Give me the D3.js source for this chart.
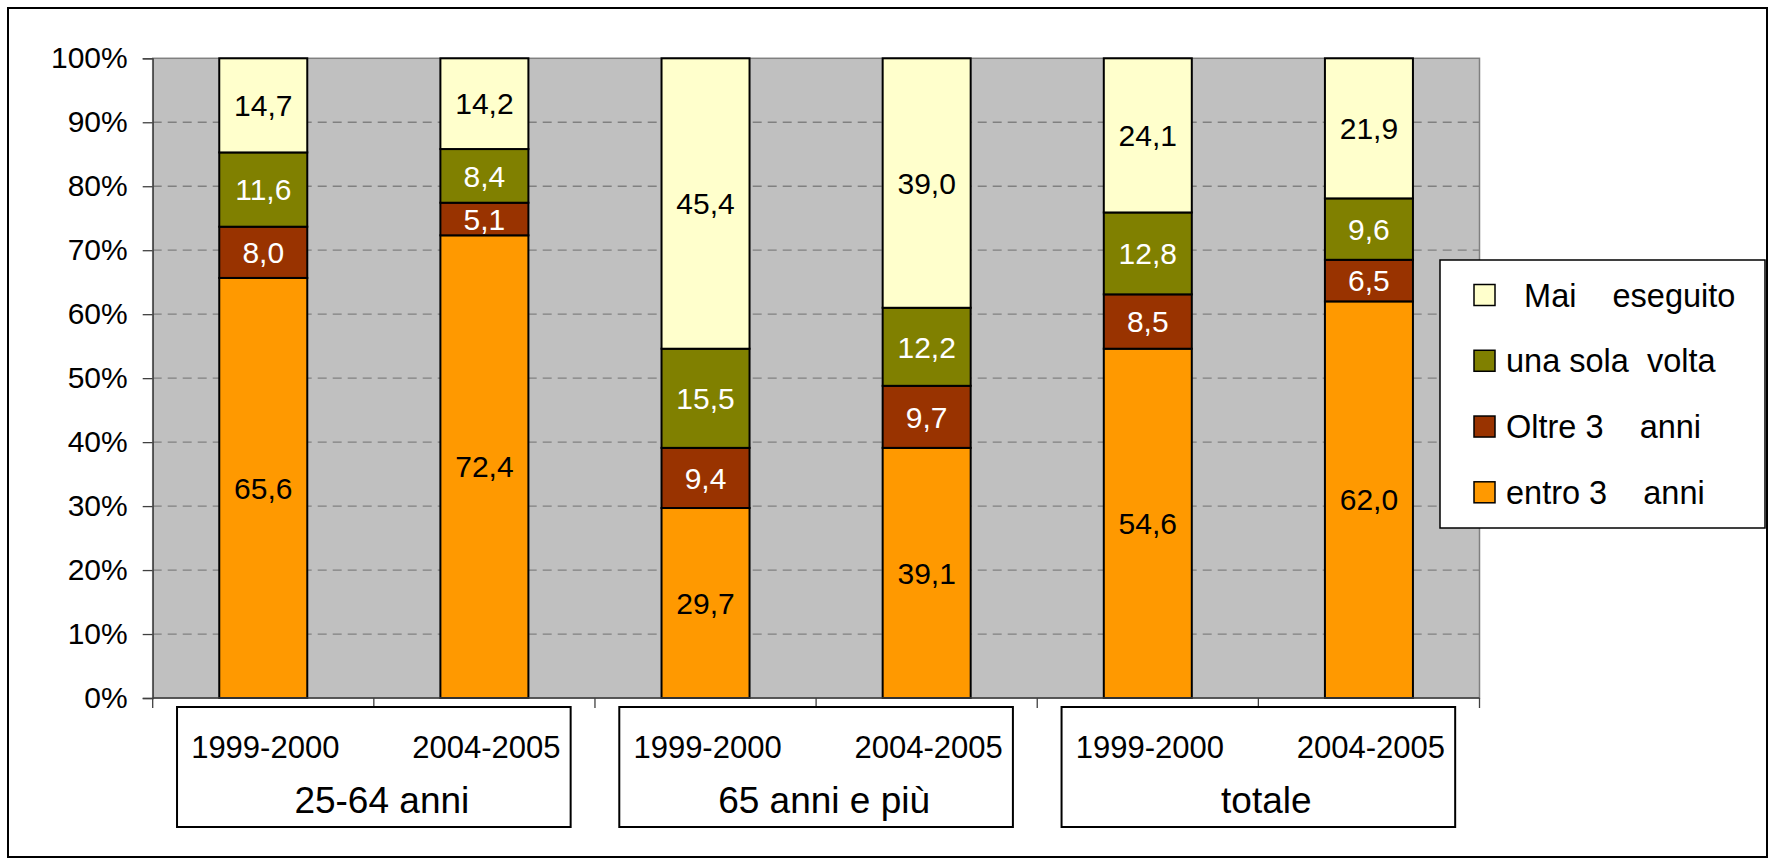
<!DOCTYPE html>
<html>
<head>
<meta charset="utf-8">
<script src="https://cdn.jsdelivr.net/npm/d3@7"></script>
<style>
	html, body { margin: 0; padding: 0; background: #fff; }
	svg text { font-family: "Liberation Sans", Arial, sans-serif; }
</style>
</head>
<body>
<svg width="1772" height="860"></svg>
<script>
// Categories (period) and age groups
const periods = ["1999-2000", "2004-2005", "1999-2000", "2004-2005", "1999-2000", "2004-2005"];
const groups = ["25-64 anni", "65 anni e più", "totale"];

// Series, bottom to top
const seriesNames = ["entro 3    anni", "Oltre 3    anni", "una sola  volta", "  Mai    eseguito"];
const entro3 = [65.6, 72.4, 29.7, 39.1, 54.6, 62.0];
const oltre3 = [8.0, 5.1, 9.4, 9.7, 8.5, 6.5];
const unaVolta = [11.6, 8.4, 15.5, 12.2, 12.8, 9.6];
const maiEseguito = [14.7, 14.2, 45.4, 39.0, 24.1, 21.9];

const seriesValues = [entro3, oltre3, unaVolta, maiEseguito];
const colors = ["#FF9900", "#993300", "#808000", "#FFFFCC"];
const labelColors = ["#000", "#fff", "#fff", "#000"];

const svg = d3.select("svg");

// outer frame
svg.append("rect")
	.attr("x", 8).attr("y", 8)
	.attr("width", 1759).attr("height", 849)
	.attr("fill", "#fff").attr("stroke", "#000").attr("stroke-width", 2);

const plot = { left: 152.7, right: 1479.5, top: 58.3, bottom: 698 };

const ids = periods.map((p, i) => i);

const x = d3.scaleBand()
	.domain(ids)
	.range([plot.left, plot.right])
	.paddingInner(0.602)
	.paddingOuter(0.301);

// band scale without padding: category boundaries
const xCell = d3.scaleBand().domain(ids).range([plot.left, plot.right]);

const xGroup = d3.scaleBand()
	.domain(groups)
	.range([plot.left, plot.right])
	.paddingInner(0.11)
	.paddingOuter(0.055);

const y = d3.scaleLinear().domain([0, 1]).range([plot.bottom, plot.top]);

// plot background
svg.append("rect")
	.attr("x", plot.left).attr("y", plot.top)
	.attr("width", plot.right - plot.left).attr("height", plot.bottom - plot.top)
	.attr("fill", "#C0C0C0").attr("stroke", "#808080").attr("stroke-width", 1.5);

// gridlines
svg.append("g")
	.selectAll("line")
	.data(y.ticks(10).filter((t) => t > 0 && t < 1))
	.enter()
	.append("line")
	.attr("x1", plot.left).attr("x2", plot.right)
	.attr("y1", (d) => y(d)).attr("y2", (d) => y(d))
	.attr("stroke", "#808080")
	.attr("stroke-width", 1.3)
	.attr("stroke-dasharray", "9,6");

// stack (100% normalised like Excel)
const rows = ids.map((i) => {
	const total = d3.sum(seriesValues, (s) => s[i]);
	const r = { id: i };
	seriesValues.forEach((s, k) => { r["s" + k] = s[i] / total; r["v" + k] = s[i]; });
	return r;
});
const stack = d3.stack().keys(seriesValues.map((s, k) => "s" + k));
const layers = stack(rows);

const it = d3.formatLocale({ decimal: ",", thousands: ".", grouping: [3], currency: ["€", ""] });
const fmt = it.format(".1f");

const layerG = svg.append("g")
	.selectAll("g")
	.data(layers)
	.enter()
	.append("g");

layerG.selectAll("rect")
	.data((d) => d)
	.enter()
	.append("rect")
	.attr("x", (d) => x(d.data.id))
	.attr("y", (d) => y(d[1]))
	.attr("width", x.bandwidth())
	.attr("height", (d) => y(d[0]) - y(d[1]))
	.attr("fill", function () { return colors[d3.select(this.parentNode).datum().index]; })
	.attr("stroke", "#000")
	.attr("stroke-width", 2);

layerG.each(function (layer) {
	const k = layer.index;
	d3.select(this).selectAll("text")
		.data(layer)
		.enter()
		.append("text")
		.attr("x", (d) => x(d.data.id) + x.bandwidth() / 2)
		.attr("y", (d) => (y(d[0]) + y(d[1])) / 2)
		.attr("dy", "0.36em")
		.attr("text-anchor", "middle")
		.style("font-size", "30px")
		.style("fill", labelColors[k])
		.text((d) => fmt(d.data["v" + k]));
});

// y axis
const yAxis = svg.append("g")
	.attr("transform", `translate(${plot.left},0)`)
	.call(d3.axisLeft(y).ticks(10).tickFormat(d3.format(".0%")).tickSize(10).tickPadding(15));
yAxis.select(".domain").attr("stroke", "#404040").attr("stroke-width", 1.3);
yAxis.selectAll(".tick line").attr("stroke", "#404040").attr("stroke-width", 1.3);
yAxis.selectAll(".tick text")
	.style("font-size", "30px")
	.style("font-family", "'Liberation Sans', Arial, sans-serif")
	.attr("fill", "#000");

// x axis line and boundary ticks
svg.append("line")
	.attr("x1", plot.left).attr("x2", plot.right)
	.attr("y1", plot.bottom).attr("y2", plot.bottom)
	.attr("stroke", "#404040").attr("stroke-width", 1.3);

const bounds = ids.map((i) => xCell(i)).concat([plot.right]);
svg.append("g")
	.selectAll("line")
	.data(bounds)
	.enter()
	.append("line")
	.attr("x1", (d) => d).attr("x2", (d) => d)
	.attr("y1", plot.bottom).attr("y2", plot.bottom + 10)
	.attr("stroke", "#404040").attr("stroke-width", 1.3);

// group boxes
svg.append("g")
	.selectAll("rect")
	.data(groups)
	.enter()
	.append("rect")
	.attr("x", (d) => xGroup(d))
	.attr("y", 707)
	.attr("width", xGroup.bandwidth())
	.attr("height", 120)
	.attr("fill", "#fff")
	.attr("stroke", "#000")
	.attr("stroke-width", 2);

// category labels
svg.append("g")
	.selectAll("text")
	.data(ids)
	.enter()
	.append("text")
	.attr("x", (d) => xCell(d) + xCell.bandwidth() / 2 + 2)
	.attr("y", 758)
	.attr("text-anchor", "middle")
	.style("font-size", "31px")
	.text((d) => periods[d]);

// group labels
svg.append("g")
	.selectAll("text")
	.data(groups)
	.enter()
	.append("text")
	.attr("x", (d) => xGroup(d) + xGroup.bandwidth() / 2 + 8)
	.attr("y", 813)
	.attr("text-anchor", "middle")
	.style("font-size", "37px")
	.text((d) => d);

// legend
const legend = svg.append("g");
legend.append("rect")
	.attr("x", 1440).attr("y", 260)
	.attr("width", 325).attr("height", 268)
	.attr("fill", "#fff").attr("stroke", "#000").attr("stroke-width", 1.5);

const legendOrder = [3, 2, 1, 0];
const legendY = d3.scalePoint().domain(legendOrder).range([295, 492.3]);

const item = legend.selectAll(".item")
	.data(legendOrder)
	.enter()
	.append("g")
	.attr("class", "item")
	.attr("transform", (d) => `translate(0,${legendY(d)})`);

item.append("rect")
	.attr("x", 1474).attr("y", -10.5)
	.attr("width", 21).attr("height", 21)
	.attr("fill", (d) => colors[d])
	.attr("stroke", "#000").attr("stroke-width", 1.5);

item.append("text")
	.attr("x", 1506)
	.attr("dy", "0.36em")
	.style("font-size", "32.5px")
	.style("white-space", "pre")
	.text((d) => seriesNames[d]);
</script>
</body>
</html>
